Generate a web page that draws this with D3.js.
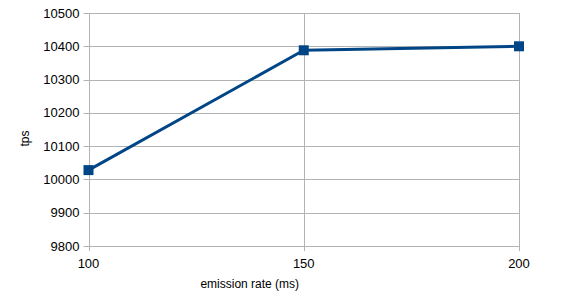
<!DOCTYPE html>
<html>
<head>
<meta charset="utf-8">
<script src="https://cdn.jsdelivr.net/npm/d3@7"></script>
<style>
  body { margin: 0; background: #fff; }
  text { font-family: "Liberation Sans", Arial, sans-serif; fill: #000; }
</style>
</head>
<body>
<svg id="chart" width="562" height="306"></svg>
<script>
// emission rate (ms) vs tps
const rates = [100, 150, 200];
const tps = [10028, 10388, 10400];
const yTicks = [9800, 9900, 10000, 10100, 10200, 10300, 10400, 10500];

const margin = {top: 13, right: 43, bottom: 60, left: 88.5};
const width = 562, height = 306;

const svg = d3.select('#chart');

const x = d3.scaleLinear()
    .domain([100, 200])
    .range([margin.left, width - margin.right]);

const y = d3.scaleLinear()
    .domain([9800, 10500])
    .range([height - margin.bottom, margin.top]);

// grid
svg.append('g')
    .selectAll('line')
    .data(yTicks)
    .join('line')
    .attr('x1', margin.left - 5)
    .attr('x2', width - margin.right)
    .attr('y1', d => Math.round(y(d)) + 0.5)
    .attr('y2', d => Math.round(y(d)) + 0.5)
    .attr('stroke', '#b3b3b3');

svg.append('g')
    .selectAll('line')
    .data(rates)
    .join('line')
    .attr('x1', d => Math.round(x(d)) + 0.5)
    .attr('x2', d => Math.round(x(d)) + 0.5)
    .attr('y1', margin.top)
    .attr('y2', height - margin.bottom + 5)
    .attr('stroke', '#b3b3b3');

// tick labels
svg.append('g')
    .selectAll('text')
    .data(yTicks)
    .join('text')
    .attr('x', margin.left - 9)
    .attr('y', d => y(d))
    .attr('dy', '0.35em')
    .attr('text-anchor', 'end')
    .style('font-size', '13px')
    .text(d => d);

svg.append('g')
    .selectAll('text')
    .data(rates)
    .join('text')
    .attr('x', d => x(d))
    .attr('y', height - margin.bottom + 22)
    .attr('text-anchor', 'middle')
    .style('font-size', '13px')
    .text(d => d);

// axis titles
svg.append('text')
    .attr('x', (margin.left + width - margin.right) / 2 - 54)
    .attr('y', 288)
    .attr('text-anchor', 'middle')
    .style('font-size', '12px')
    .text('emission rate (ms)');

svg.append('text')
    .attr('transform', 'translate(29,' + ((margin.top + height - margin.bottom) / 2 + 9) + ') rotate(-90)')
    .attr('text-anchor', 'middle')
    .style('font-size', '12px')
    .text('tps');

// line
const pts = rates.map((r, i) => [r, tps[i]]);

svg.append('path')
    .datum(pts)
    .attr('fill', 'none')
    .attr('stroke', '#004586')
    .attr('stroke-width', 3)
    .attr('stroke-linejoin', 'round')
    .attr('d', d3.line().x(d => x(d[0])).y(d => y(d[1])));

svg.append('g')
    .selectAll('rect')
    .data(pts)
    .join('rect')
    .attr('x', d => x(d[0]) - 5)
    .attr('y', d => y(d[1]) - 5)
    .attr('width', 10)
    .attr('height', 10)
    .attr('fill', '#004586');
</script>
</body>
</html>
